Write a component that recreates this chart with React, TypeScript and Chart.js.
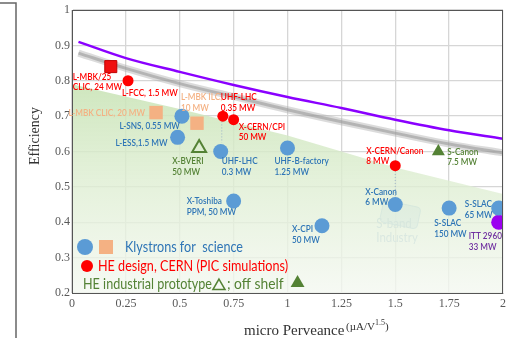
import React, { useEffect, useRef } from "react";
import { Chart, registerables } from "chart.js";

Chart.register(...registerables);

// ---- data ----
const xTicksMin = 0;
const xTicksMax = 2;
const yTicksMin = 0.2;
const yTicksMax = 1;

// Klystrons for science (blue circles)
const scienceX = [0.51, 0.49, 0.69, 1.0, 0.75, 1.16, 1.5, 1.75, 1.98];
const scienceY = [0.70, 0.64, 0.60, 0.61, 0.46, 0.39, 0.45, 0.44, 0.44];
const scienceNames = [
  ["L-SNS, 0.55 MW"],
  ["L-ESS,1.5 MW"],
  ["UHF-LHC", "0.3 MW"],
  ["UHF-B-factory", "1.25 MW"],
  ["X-Toshiba", "PPM, 50 MW"],
  ["X-CPI", "50 MW"],
  ["X-Canon", "6 MW"],
  ["S-SLAC", "150 MW"],
  ["S-SLAC", "65 MW"],
];

// Klystrons for science (orange squares, MBK)
const mbkX = [0.39, 0.58];
const mbkY = [0.71, 0.68];
const mbkNames = [["L-MBK CLIC, 20 MW"], ["L-MBK ILC,", "10 MW"]];

// HE design, CERN (red circles)
const cernX = [0.26, 0.70, 0.75, 1.5];
const cernY = [0.80, 0.70, 0.69, 0.56];
const cernNames = [
  ["L-FCC, 1.5 MW"],
  ["UHF-LHC", "0.35 MW"],
  ["X-CERN/CPI", "50 MW"],
  ["X-CERN/Canon", "8 MW"],
];

// HE design, CERN MBK (red square)
const cernMbkX = [0.18];
const cernMbkY = [0.84];
const cernMbkNames = [["L-MBK/25", "CLIC, 24 MW"]];

// HE industrial prototype (hollow triangle)
const prototypeX = [0.59];
const prototypeY = [0.61];
const prototypeNames = [["X-BVERI", "50 MW"]];

// off shelf (filled triangle)
const shelfX = [1.70];
const shelfY = [0.60];
const shelfNames = [["S-Canon", "7.5 MW"]];

// ITT 2960 (purple)
const ittX = [1.98];
const ittY = [0.40];
const ittNames = [["ITT 2960", "33 MW"]];

// limit curves
const curveX = [0.03, 0.25, 0.5, 0.75, 1.0, 1.25, 1.5, 1.75, 2.0];
const purpleLimitY = [0.91, 0.864, 0.825, 0.788, 0.754, 0.723, 0.69, 0.66, 0.636];
const greyLimitY = [0.878, 0.835, 0.792, 0.755, 0.718, 0.684, 0.652, 0.621, 0.596];

// shaded region upper boundary
const regionX = [0, 0.5, 1.0, 1.5, 2.0];
const regionY = [0.79, 0.72, 0.645, 0.555, 0.48];

// dotted connectors
const connectorA_X = [0.695, 0.695];
const connectorA_Y = [0.685, 0.625];
const connectorB_X = [1.5, 1.5];
const connectorB_Y = [0.545, 0.47];

// ---- styles / layout (not data) ----
const BLUE = "#5B9BD5";
const BLUE_TXT = "#2E75B6";
const ORANGE = "#F4B183";
const RED = "#FF0000";
const GREEN = "#548235";
const PURPLE = "#9B00F0";
const PURPLE_TXT = "#7030A0";
const SANS = "Lato, 'Liberation Sans', sans-serif";
const LABEL_FONT = "600 10px " + SANS;
const LABEL_SX = 0.82;
const LEGEND_FONT = "15px " + SANS;
const LEGEND_SX = 0.84;
const LINE_H = 10.5;

type Off = [number, number, "left" | "right"];
const scienceOff: Off[] = [
  [-2, 10, "right"],
  [-10, 5, "right"],
  [1, 9.5, "left"],
  [-13, 13, "left"],
  [-47, 0, "left"],
  [-30, 3, "left"],
  [-30, -13, "left"],
  [-15, 15, "left"],
  [-34, -4, "left"],
];
const mbkOff: Off[] = [
  [-11, 0, "right"],
  [-16, -26, "left"],
];
const cernOff: Off[] = [
  [-6, 12, "left"],
  [-2, -19, "left"],
  [5, 7, "left"],
  [-29, -15, "left"],
];
const cernMbkOff: Off[] = [[-38, 10, "left"]];
const prototypeOff: Off[] = [[-27, 13, "left"]];
const shelfOff: Off[] = [[9, 0, "left"]];
const ittOff: Off[] = [[-30, 14, "left"]];

const zip = (xs: number[], ys: number[]) => xs.map((x, i) => ({ x, y: ys[i] }));

const labelGroups = [
  { xs: scienceX, ys: scienceY, names: scienceNames, off: scienceOff, color: BLUE_TXT },
  { xs: mbkX, ys: mbkY, names: mbkNames, off: mbkOff, color: ORANGE },
  { xs: cernX, ys: cernY, names: cernNames, off: cernOff, color: RED },
  { xs: cernMbkX, ys: cernMbkY, names: cernMbkNames, off: cernMbkOff, color: RED },
  { xs: prototypeX, ys: prototypeY, names: prototypeNames, off: prototypeOff, color: GREEN },
  { xs: shelfX, ys: shelfY, names: shelfNames, off: shelfOff, color: GREEN },
  { xs: ittX, ys: ittY, names: ittNames, off: ittOff, color: PURPLE_TXT },
];

function sText(
  ctx: CanvasRenderingContext2D,
  text: string,
  x: number,
  y: number,
  align: "left" | "right" | "center",
  sx: number
): number {
  ctx.save();
  ctx.translate(x, y);
  ctx.scale(sx, 1);
  ctx.textAlign = align;
  ctx.fillText(text, 0, 0);
  const w = ctx.measureText(text).width * sx;
  ctx.restore();
  return w;
}

function triangle(ctx: CanvasRenderingContext2D, cx: number, cy: number, r: number) {
  ctx.beginPath();
  for (let i = 0; i < 3; i++) {
    const a = (i * 2 * Math.PI) / 3;
    const px = cx + Math.sin(a) * r;
    const py = cy - Math.cos(a) * r;
    if (i === 0) ctx.moveTo(px, py);
    else ctx.lineTo(px, py);
  }
  ctx.closePath();
}

const backgroundPlugin = {
  id: "bgDecor",
  beforeDatasetsDraw(chart: any) {
    const { ctx, scales } = chart;
    const xs = scales.x;
    const ys = scales.y;
    // S-band Industry box
    const cx = xs.getPixelForValue(1.5) + 5;
    const cy = ys.getPixelForValue(0.45) + 10;
    ctx.save();
    ctx.translate(cx, cy);
    ctx.rotate((12 * Math.PI) / 180);
    ctx.beginPath();
    (ctx as any).roundRect(-19, -11, 38, 22, 4);
    ctx.fillStyle = "rgba(195,218,242,0.75)";
    ctx.fill();
    ctx.strokeStyle = "rgba(160,195,232,0.9)";
    ctx.lineWidth = 1;
    ctx.stroke();
    ctx.restore();
    ctx.save();
    ctx.font = "14px " + SANS;
    ctx.fillStyle = "rgba(150,182,218,0.95)";
    ctx.textBaseline = "middle";
    sText(ctx, "S-band", cx - 24, cy + 9, "left", 0.82);
    sText(ctx, "Industry", cx - 24, cy + 23, "left", 0.82);
    ctx.restore();
  },
};

const overlayPlugin = {
  id: "overlay",
  afterDraw(chart: any) {
    const { ctx, scales, chartArea } = chart;
    const xs = scales.x;
    const ys = scales.y;
    ctx.save();
    // plot frame (top/right)
    ctx.strokeStyle = "#555";
    ctx.lineWidth = 1;
    ctx.strokeRect(chartArea.left + 0.5, chartArea.top + 0.5, chartArea.right - chartArea.left - 1, chartArea.bottom - chartArea.top);

    // point labels
    ctx.font = LABEL_FONT;
    ctx.textBaseline = "middle";
    labelGroups.forEach((g) => {
      ctx.fillStyle = g.color;
      g.xs.forEach((xv, i) => {
        const [dx, dy, align] = g.off[i];
        const px = xs.getPixelForValue(xv) + dx;
        const py = ys.getPixelForValue(g.ys[i]) + dy;
        g.names[i].forEach((line: string, k: number) => {
          sText(ctx, line, px, py + k * LINE_H, align, LABEL_SX);
        });
      });
    });

    // legend
    const L = chartArea.left;
    const B = chartArea.bottom;
    ctx.fillStyle = BLUE;
    ctx.beginPath();
    ctx.arc(L + 13, B - 46, 8, 0, Math.PI * 2);
    ctx.fill();
    ctx.fillStyle = ORANGE;
    ctx.fillRect(L + 27, B - 53, 14, 14);
    ctx.fillStyle = RED;
    ctx.beginPath();
    ctx.arc(L + 15, B - 27, 6, 0, Math.PI * 2);
    ctx.fill();

    ctx.textBaseline = "middle";
    ctx.font = LEGEND_FONT;
    ctx.fillStyle = BLUE_TXT;
    sText(ctx, "Klystrons for  science", L + 53, B - 46, "left", LEGEND_SX);
    ctx.fillStyle = RED;
    sText(ctx, "HE design, CERN (PIC simulations)", L + 26, B - 27, "left", LEGEND_SX);
    ctx.fillStyle = GREEN;
    let cur = L + 11;
    cur += sText(ctx, "HE industrial prototype", cur, B - 9, "left", LEGEND_SX) + 7;
    ctx.strokeStyle = GREEN;
    ctx.lineWidth = 1.5;
    triangle(ctx, cur, B - 7, 7);
    ctx.stroke();
    cur += 8;
    cur += sText(ctx, "; off shelf", cur, B - 9, "left", 0.92) + 14;
    ctx.fillStyle = GREEN;
    triangle(ctx, cur, B - 10, 8);
    ctx.fill();

    // axis titles
    ctx.fillStyle = "#333";
    ctx.font = "14px 'Liberation Serif', 'DejaVu Serif', serif";
    ctx.save();
    ctx.translate(35, 136);
    ctx.rotate(-Math.PI / 2);
    ctx.textAlign = "center";
    ctx.fillText("Efficiency", 0, 0);
    ctx.restore();
    ctx.textAlign = "left";
    ctx.font = "15px 'Liberation Serif', 'DejaVu Serif', serif";
    ctx.fillText("micro Perveance", 244, 331);
    ctx.font = "11px 'Liberation Serif', 'DejaVu Serif', serif";
    let ux = 346;
    const u1 = "(\u00B5A/V";
    ctx.fillText(u1, ux, 327);
    ux += ctx.measureText(u1).width;
    ctx.font = "8px 'Liberation Serif', 'DejaVu Serif', serif";
    ctx.fillText("1.5", ux, 323);
    ux += ctx.measureText("1.5").width;
    ctx.font = "11px 'Liberation Serif', 'DejaVu Serif', serif";
    ctx.fillText(")", ux, 327);

    // page frame at left
    ctx.strokeStyle = "#666";
    ctx.lineWidth = 1.5;
    ctx.beginPath();
    ctx.moveTo(0, 3);
    ctx.lineTo(16, 3);
    ctx.lineTo(16, 338);
    ctx.stroke();
    ctx.restore();
  },
};

const tickFmt = (v: any) => String(Math.round(Number(v) * 100) / 100);

export default function App() {
  const ref = useRef<HTMLCanvasElement | null>(null);
  useEffect(() => {
    if (!ref.current) return;
    const tickFont = { family: "'Liberation Serif', 'DejaVu Serif', serif", size: 12 };
    const chart = new Chart(ref.current, {
      type: "scatter",
      data: {
        datasets: [
          {
            label: "blue",
            data: zip(scienceX, scienceY),
            pointStyle: "circle",
            pointRadius: 7.5,
            backgroundColor: BLUE,
            borderColor: BLUE,
            borderWidth: 0,
            order: 1,
          },
          {
            label: "orange",
            data: zip(mbkX, mbkY),
            pointStyle: "rect",
            pointRadius: 9.5,
            backgroundColor: ORANGE,
            borderColor: ORANGE,
            borderWidth: 0,
            order: 1,
          },
          {
            label: "red",
            data: zip(cernX, cernY),
            pointStyle: "circle",
            pointRadius: 5.5,
            backgroundColor: RED,
            borderColor: RED,
            borderWidth: 0,
            order: 1,
          },
          {
            label: "redsq",
            data: zip(cernMbkX, cernMbkY),
            pointStyle: "rect",
            pointRadius: 8.5,
            backgroundColor: "#F01010",
            borderColor: "#C00000",
            borderWidth: 1,
            order: 1,
          },
          {
            label: "proto",
            data: zip(prototypeX, prototypeY),
            pointStyle: "triangle",
            pointRadius: 8,
            backgroundColor: "rgba(0,0,0,0)",
            borderColor: GREEN,
            borderWidth: 2,
            order: 1,
          },
          {
            label: "shelf",
            data: zip(shelfX, shelfY),
            pointStyle: "triangle",
            pointRadius: 7.5,
            backgroundColor: GREEN,
            borderColor: GREEN,
            borderWidth: 0,
            order: 1,
          },
          {
            label: "itt",
            data: zip(ittX, ittY),
            pointStyle: "circle",
            pointRadius: 7.5,
            backgroundColor: PURPLE,
            borderColor: PURPLE,
            borderWidth: 0,
            order: 1,
          },
          {
            label: "connA",
            type: "line",
            data: zip(connectorA_X, connectorA_Y),
            showLine: true,
            borderColor: "#9DB3C8",
            borderWidth: 1,
            borderDash: [1, 2],
            pointRadius: 0,
            fill: false,
            order: 5,
          },
          {
            label: "connB",
            type: "line",
            data: zip(connectorB_X, connectorB_Y),
            showLine: true,
            borderColor: "#9DB3C8",
            borderWidth: 1,
            borderDash: [1, 2],
            pointRadius: 0,
            fill: false,
            order: 5,
          },
          {
            label: "purple",
            type: "line",
            data: zip(curveX, purpleLimitY),
            showLine: true,
            borderColor: "#8A00FF",
            borderWidth: 2.5,
            pointRadius: 0,
            cubicInterpolationMode: "monotone",
            fill: false,
            order: 6,
          },
          {
            label: "greyCore",
            type: "line",
            data: zip(curveX, greyLimitY),
            showLine: true,
            borderColor: "rgba(150,150,150,0.55)",
            borderWidth: 3,
            pointRadius: 0,
            cubicInterpolationMode: "monotone",
            fill: false,
            order: 7,
          },
          {
            label: "greyBand",
            type: "line",
            data: zip(curveX, greyLimitY),
            showLine: true,
            borderColor: "rgba(175,175,175,0.45)",
            borderWidth: 7,
            pointRadius: 0,
            cubicInterpolationMode: "monotone",
            fill: false,
            order: 8,
          },
          {
            label: "region",
            type: "line",
            data: zip(regionX, regionY),
            showLine: true,
            borderColor: "rgba(255,255,255,0)",
            borderWidth: 0,
            pointRadius: 0,
            fill: "start",
            backgroundColor: (c: any) => {
              const ca = c.chart.chartArea;
              if (!ca) return "rgba(210,232,195,0.6)";
              const g = c.chart.ctx.createLinearGradient(0, ca.top + 60, 0, ca.bottom);
              g.addColorStop(0, "rgba(198,226,178,0.9)");
              g.addColorStop(0.5, "rgba(222,238,210,0.8)");
              g.addColorStop(1, "rgba(244,248,241,0.8)");
              return g;
            },
            order: 9,
          },
        ] as any,
      },
      options: {
        animation: false,
        responsive: false,
        maintainAspectRatio: false,
        layout: { padding: { top: 10, right: 1, left: 0, bottom: 0 } },
        plugins: { legend: { display: false }, tooltip: { enabled: false } },
        scales: {
          x: {
            type: "linear",
            min: xTicksMin,
            max: xTicksMax,
            ticks: { stepSize: 0.25, font: tickFont, color: "#595959", padding: 4, callback: tickFmt },
            grid: { color: "#D6D6D6", lineWidth: 1.3, drawTicks: false },
            border: { color: "#555" },
            afterFit: (s: any) => {
              s.height = 45;
              s.paddingLeft = 0;
              s.paddingRight = 0;
            },
          },
          y: {
            type: "linear",
            min: yTicksMin,
            max: yTicksMax,
            ticks: { stepSize: 0.1, font: tickFont, color: "#595959", padding: 2, callback: tickFmt },
            grid: { color: "#D6D6D6", lineWidth: 1.3, drawTicks: false },
            border: { color: "#555" },
            afterFit: (s: any) => {
              s.width = 72;
              s.paddingTop = 0;
              s.paddingBottom = 0;
            },
          },
        },
      } as any,
      plugins: [backgroundPlugin, overlayPlugin],
    });
    return () => chart.destroy();
  }, []);
  return (
    <div style={{ position: "absolute", left: 0, top: 0, width: 513, height: 338, background: "#fff" }}>
      <canvas ref={ref} width={513} height={338} style={{ width: 513, height: 338, display: "block" }} />
    </div>
  );
}
